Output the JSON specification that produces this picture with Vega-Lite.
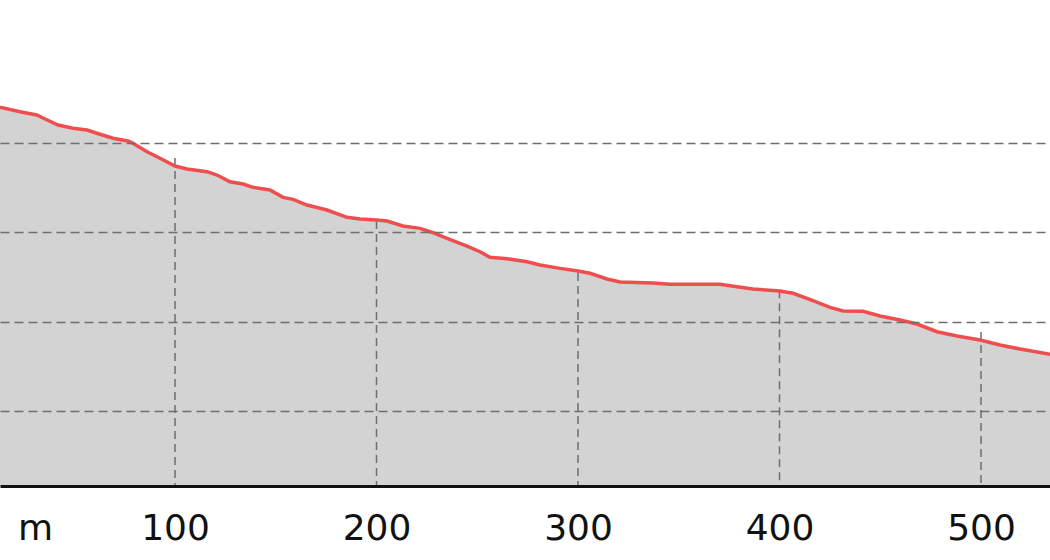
{
  "$schema": "https://vega.github.io/schema/vega-lite/v6.json",
  "width": 1050,
  "height": 486,
  "autosize": {"type": "none"},
  "padding": {"left": 0, "top": 0, "right": 0, "bottom": 74},
  "background": "white",
  "config": {"view": {"stroke": null}},
  "datasets": {
    "profile": [
      {"distance": 13.15, "elevation": 133.99},
      {"distance": 23.08, "elevation": 133.50},
      {"distance": 31.37, "elevation": 133.13},
      {"distance": 34.49, "elevation": 132.79},
      {"distance": 41.94, "elevation": 132.01},
      {"distance": 49.38, "elevation": 131.64},
      {"distance": 56.33, "elevation": 131.45},
      {"distance": 62.78, "elevation": 130.97},
      {"distance": 69.23, "elevation": 130.52},
      {"distance": 76.67, "elevation": 130.22},
      {"distance": 79.16, "elevation": 129.96},
      {"distance": 86.10, "elevation": 129.02},
      {"distance": 92.56, "elevation": 128.28},
      {"distance": 100.00, "elevation": 127.42},
      {"distance": 105.96, "elevation": 127.08},
      {"distance": 115.88, "elevation": 126.78},
      {"distance": 120.84, "elevation": 126.41},
      {"distance": 127.30, "elevation": 125.66},
      {"distance": 133.75, "elevation": 125.40},
      {"distance": 138.71, "elevation": 125.03},
      {"distance": 147.15, "elevation": 124.73},
      {"distance": 153.60, "elevation": 123.91},
      {"distance": 158.56, "elevation": 123.69},
      {"distance": 165.51, "elevation": 123.05},
      {"distance": 175.43, "elevation": 122.49},
      {"distance": 185.36, "elevation": 121.67},
      {"distance": 191.81, "elevation": 121.48},
      {"distance": 200.25, "elevation": 121.37},
      {"distance": 205.21, "elevation": 121.26},
      {"distance": 213.15, "elevation": 120.70},
      {"distance": 221.59, "elevation": 120.44},
      {"distance": 228.04, "elevation": 119.95},
      {"distance": 234.99, "elevation": 119.32},
      {"distance": 244.91, "elevation": 118.46},
      {"distance": 251.36, "elevation": 117.82},
      {"distance": 256.33, "elevation": 117.20},
      {"distance": 264.76, "elevation": 117.04},
      {"distance": 274.69, "elevation": 116.70},
      {"distance": 281.14, "elevation": 116.33},
      {"distance": 291.07, "elevation": 115.96},
      {"distance": 300.00, "elevation": 115.66},
      {"distance": 305.96, "elevation": 115.41},
      {"distance": 314.39, "elevation": 114.77},
      {"distance": 320.84, "elevation": 114.43},
      {"distance": 337.22, "elevation": 114.32},
      {"distance": 345.66, "elevation": 114.17},
      {"distance": 362.03, "elevation": 114.17},
      {"distance": 370.47, "elevation": 114.17},
      {"distance": 378.91, "elevation": 113.91},
      {"distance": 386.85, "elevation": 113.65},
      {"distance": 400.25, "elevation": 113.42},
      {"distance": 406.70, "elevation": 113.17},
      {"distance": 416.63, "elevation": 112.34},
      {"distance": 425.06, "elevation": 111.60},
      {"distance": 431.51, "elevation": 111.19},
      {"distance": 441.44, "elevation": 111.15},
      {"distance": 449.88, "elevation": 110.63},
      {"distance": 459.80, "elevation": 110.18},
      {"distance": 468.24, "elevation": 109.73},
      {"distance": 478.16, "elevation": 108.87},
      {"distance": 488.09, "elevation": 108.39},
      {"distance": 499.50, "elevation": 107.94},
      {"distance": 509.43, "elevation": 107.38},
      {"distance": 519.35, "elevation": 106.93},
      {"distance": 534.24, "elevation": 106.34}
    ],
    "grid": [
      {"distance": 100, "top": 128.31},
      {"distance": 200, "top": 121.26},
      {"distance": 300, "top": 115.44},
      {"distance": 400, "top": 113.5},
      {"distance": 500, "top": 108.83}
    ]
  },
  "layer": [
    {
      "data": {"name": "profile"},
      "mark": {"type": "area", "color": "#d3d3d3", "clip": true},
      "encoding": {
        "x": {
          "field": "distance",
          "type": "quantitative",
          "scale": {"domain": [13.15, 534.24], "nice": false, "zero": false},
          "axis": {
            "values": [30.52, 100, 200, 300, 400, 500],
            "labelExpr": "datum.value < 50 ? 'm' : datum.label",
            "ticks": false,
            "tickSize": 0,
            "grid": false,
            "domainColor": "#111111",
            "domainWidth": 3,
            "labelFont": "DejaVu Sans",
            "labelFontSize": 36,
            "labelColor": "#111111",
            "labelPadding": 25,
            "labelFlush": false,
            "labelOverlap": false,
            "title": null,
            "zindex": 1
          }
        },
        "y": {
          "field": "elevation",
          "type": "quantitative",
          "scale": {"domain": [91.6, 146], "nice": false, "zero": false},
          "axis": {
            "values": [100, 110, 120, 130],
            "grid": true,
            "gridColor": "#6e6e6e",
            "gridDash": [9, 5],
            "gridWidth": 1.5,
            "labels": false,
            "ticks": false,
            "domain": false,
            "title": null,
            "zindex": 1
          }
        },
        "y2": {"datum": 91.6}
      }
    },
    {
      "data": {"name": "grid"},
      "mark": {"type": "rule", "color": "#6e6e6e", "strokeDash": [8, 5], "strokeWidth": 1.5},
      "encoding": {
        "x": {"field": "distance", "type": "quantitative"},
        "y": {"field": "top", "type": "quantitative"},
        "y2": {"datum": 91.6}
      }
    },
    {
      "data": {"name": "profile"},
      "mark": {"type": "line", "color": "#f04e4e", "strokeWidth": 3.5, "clip": true},
      "encoding": {
        "x": {"field": "distance", "type": "quantitative"},
        "y": {"field": "elevation", "type": "quantitative"}
      }
    }
  ]
}
